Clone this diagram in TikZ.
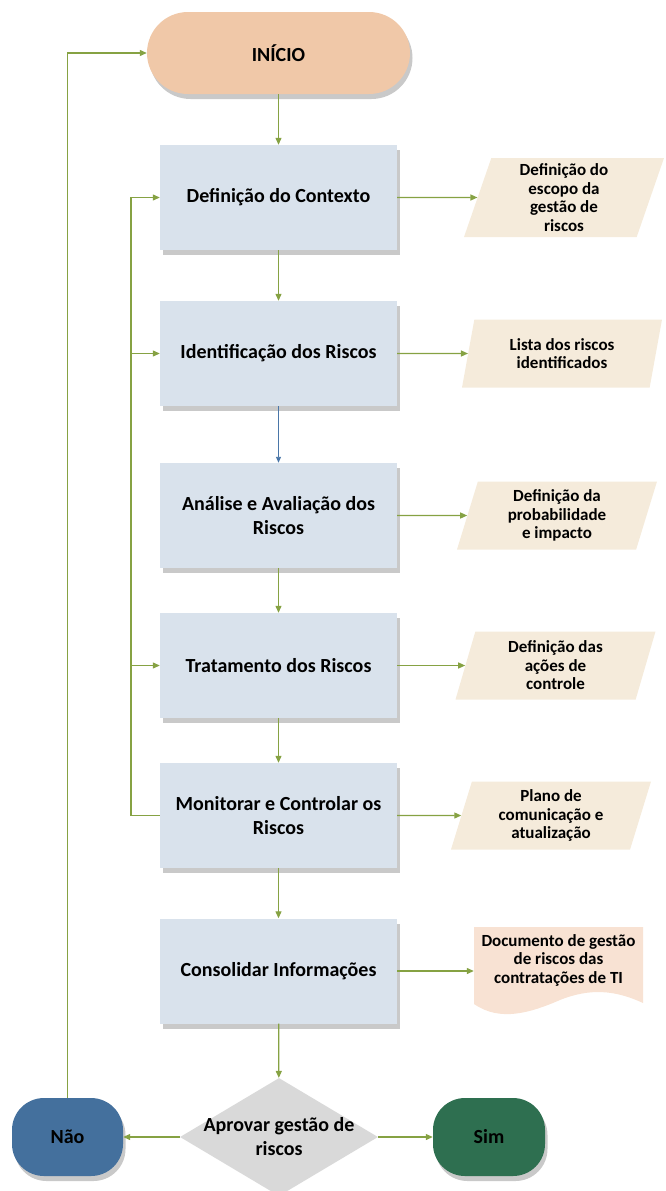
\documentclass[tikz,border=0pt]{standalone}
\usepackage{fontspec}
\setmainfont{Carlito}
\usetikzlibrary{arrows.meta,shapes.geometric,shadows}

\definecolor{flow}{HTML}{86A243}
\definecolor{bluearrow}{HTML}{4A76A8}
\definecolor{stepfill}{HTML}{D9E2EC}
\definecolor{startfill}{HTML}{F0C8A8}
\definecolor{outfill}{HTML}{F5EBDB}
\definecolor{docfill}{HTML}{F8E2D3}
\definecolor{nofill}{HTML}{44709D}
\definecolor{yesfill}{HTML}{2E6F50}
\definecolor{decfill}{HTML}{D9D9D9}
\definecolor{shadowgray}{HTML}{C9C9C9}

\begin{document}
\begin{tikzpicture}[x=1pt,y=-1pt,
  shade/.style={drop shadow={shadow xshift=2.5pt,shadow yshift=-5pt,fill=shadowgray,opacity=1}},
  bigtext/.style={font=\bfseries\fontsize{20}{24}\selectfont},
  smalltext/.style={font=\bfseries\fontsize{17}{18.5}\selectfont},
  stepbox/.style={rectangle,fill=stepfill,minimum width=237pt,minimum height=105pt,
    inner sep=0pt,align=center,bigtext,shade},
  terminal/.style={rectangle,rounded corners=#1,inner sep=0pt,align=center,bigtext,shade},
  outbox/.style={trapezium,trapezium left angle=68,trapezium right angle=112,
    trapezium stretches body=true,fill=outfill,minimum width=200pt,minimum height=68pt,
    inner sep=0pt,align=center,smalltext},
  decision/.style={diamond,fill=decfill,minimum width=198pt,minimum height=118pt,inner sep=0pt},
  flowline/.style={draw=flow,line width=1.2pt},
  flowarrow/.style={flowline,-{Triangle[length=7pt,width=6pt]}},
]
\useasboundingbox (0,0) rectangle (665,1191);

% start terminal
\node[terminal=41pt,fill=startfill,minimum width=263pt,minimum height=82pt] (start) at (278.5,53) {INÍCIO};

% process steps
\node[stepbox] (b1) at (278.5,197.5) {Definição do Contexto};
\node[stepbox] (b2) at (278.5,353.5) {Identificação dos Riscos};
\node[stepbox] (b3) at (278.5,515.5) {Análise e Avaliação dos\\Riscos};
\node[stepbox] (b4) at (278.5,665.5) {Tratamento dos Riscos};
\node[stepbox] (b5) at (278.5,815.5) {Monitorar e Controlar os\\Riscos};
\node[stepbox] (b6) at (278.5,971) {Consolidar Informações};

% outputs of each step
\node[outbox,minimum height=79pt] (o1) at (564,197.5) {Definição do\\escopo da\\gestão de\\riscos};
\node[outbox] (o2) at (562,353.5) {Lista dos riscos\\identificados};
\node[outbox] (o3) at (557,515.5) {Definição da\\probabilidade\\e impacto};
\node[outbox] (o4) at (555.5,665.5) {Definição das\\ações de\\controle};
\node[outbox] (o5) at (551,815.5) {Plano de\\comunicação e\\atualização};

% final document
\fill[docfill] (474,927) -- (643,927) -- (643,1003)
  .. controls (615,990) and (590,988) .. (560,1000)
  .. controls (530,1013) and (500,1022) .. (474,1004) -- cycle;
\node[smalltext,align=center,minimum width=169pt,inner sep=0pt] (doc) at (558.5,960) {Documento de gestão\\de riscos das\\contratações de TI};

% approval decision and outcomes
\node[decision] (dec) at (279,1137) {};
\node[bigtext,align=center,inner sep=0pt] (dectext) at (dec.center) {Aprovar gestão de\\riscos};
\node[terminal=32pt,fill=nofill,minimum width=111pt,minimum height=78pt] (no) at (67.5,1137) {Não};
\node[terminal=32pt,fill=yesfill,minimum width=112pt,minimum height=78pt] (yes) at (489,1137) {Sim};

% main flow
\draw[flowarrow] (start) -- (b1);
\draw[flowarrow] (b1) -- (b2);
\draw[draw=bluearrow,line width=0.9pt,-{Triangle[length=6pt,width=5pt]}] (b2) -- (b3);
\draw[flowarrow] (b3) -- (b4);
\draw[flowarrow] (b4) -- (b5);
\draw[flowarrow] (b5) -- (b6);
\draw[flowarrow] (b6) -- (dec);
\draw[flowarrow] (dec) -- (no);
\draw[flowarrow] (dec) -- (yes);

% outputs
\draw[flowarrow] (b1) -- (o1);
\draw[flowarrow] (b2) -- (o2);
\draw[flowarrow] (b3) -- (o3);
\draw[flowarrow] (b4) -- (o4);
\draw[flowarrow] (b5) -- (o5);
\draw[flowarrow] (b6.east) -- (b6.east -| doc.west);

% monitoring feedback loop
\coordinate (lp) at (131,815.5);
\draw[flowarrow] (b5.west) -- (lp) |- (b1.west);
\draw[flowarrow] (lp |- b2.west) -- (b2.west);
\draw[flowarrow] (lp |- b4.west) -- (b4.west);

% rejection returns to the start
\draw[flowarrow] (no.north) |- (start.west);
\end{tikzpicture}
\end{document}
